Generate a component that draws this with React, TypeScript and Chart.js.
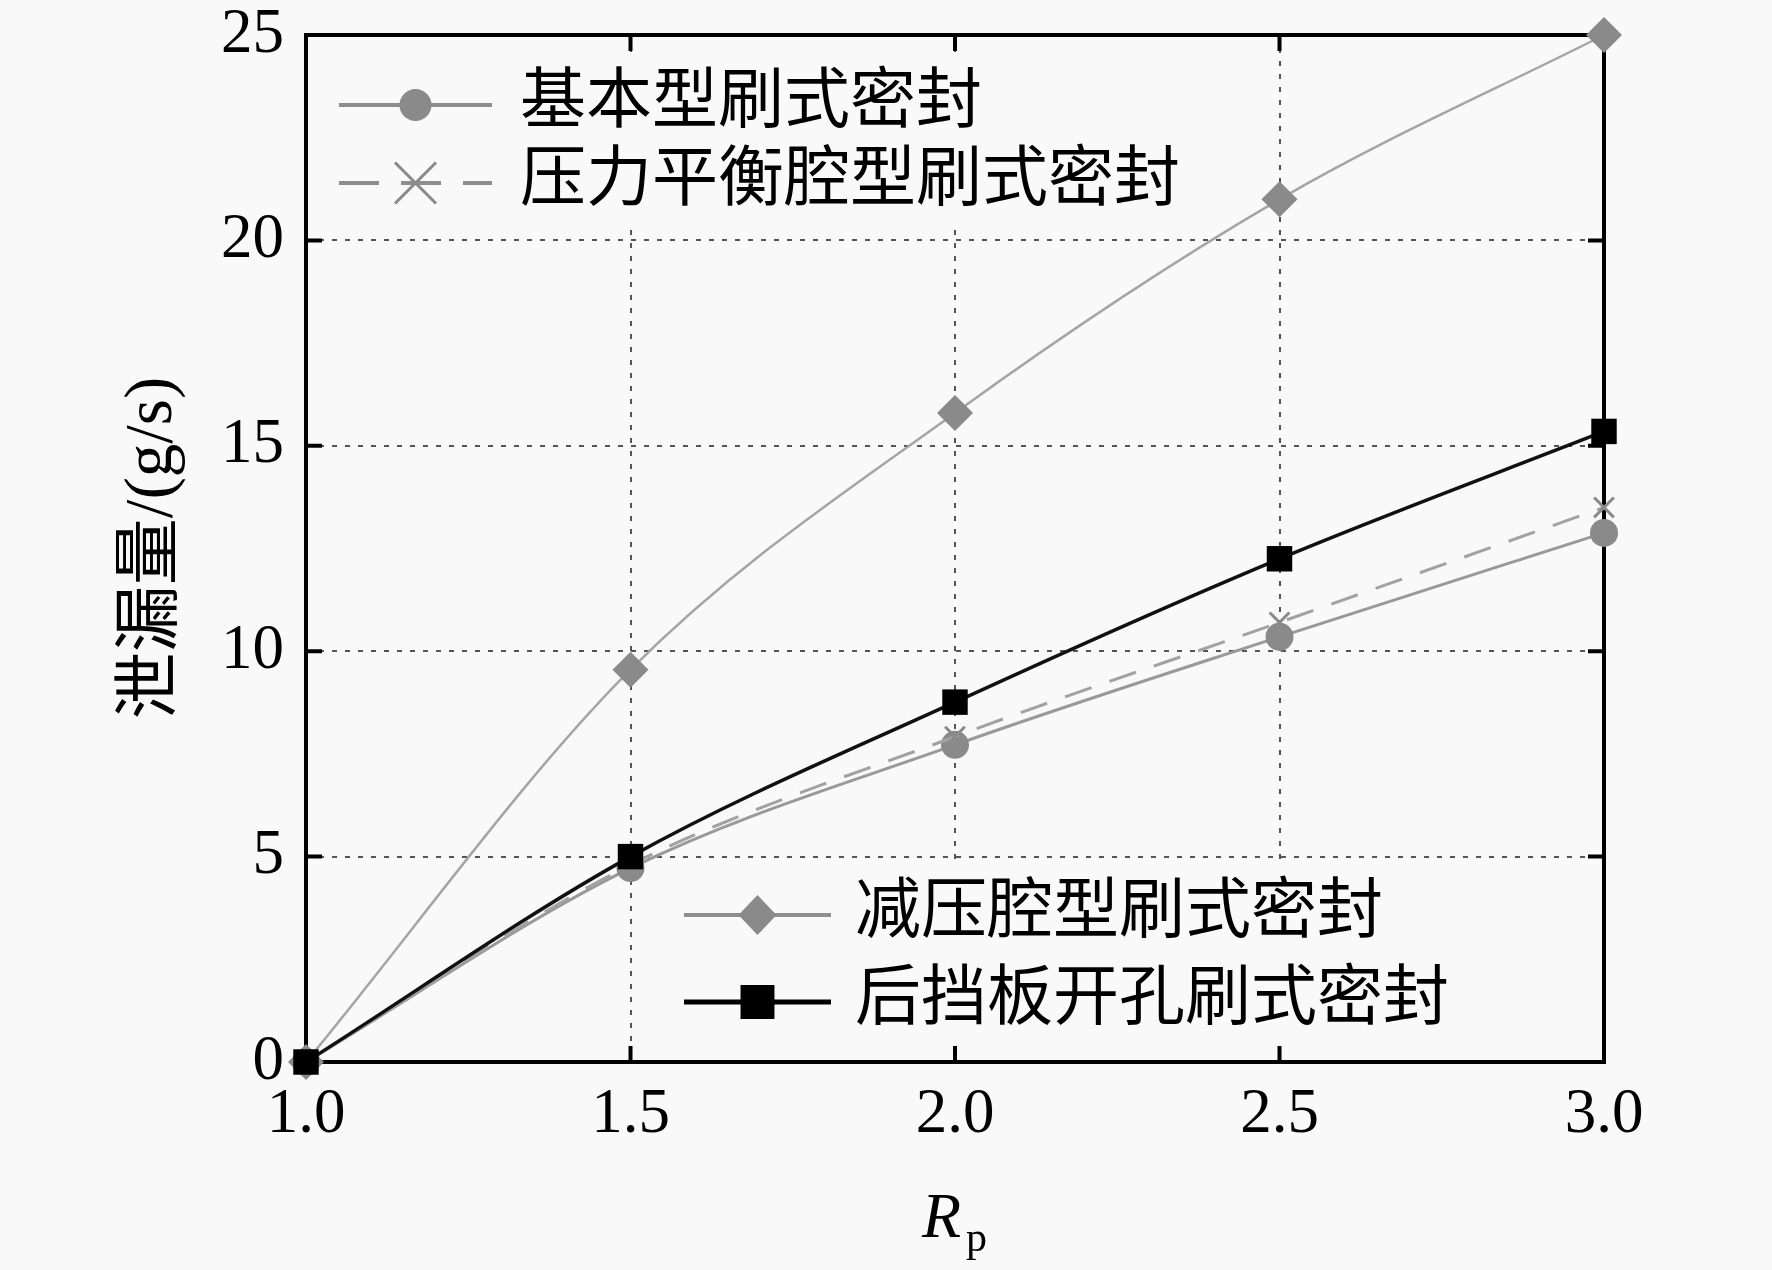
import React, { useEffect, useRef } from 'react';
import { Chart, registerables } from 'chart.js';
Chart.register(...registerables);

// 数据
const rpValues = [1.0, 1.5, 2.0, 2.5, 3.0];
const basicSeal = [0, 4.72, 7.72, 10.35, 12.88];
const balanceSeal = [0, 4.8, 7.92, 10.7, 13.5];
const reliefSeal = [0, 9.55, 15.8, 21.0, 25.0];
const backplateSeal = [0, 5.0, 8.76, 12.25, 15.35];

const xTicks = [1.0, 1.5, 2.0, 2.5, 3.0];
const yTicks = [0, 5, 10, 15, 20, 25];

const seriesNames = ['基本型刷式密封', '压力平衡腔型刷式密封', '减压腔型刷式密封', '后挡板开孔刷式密封'];

const BG = '#f9f9f9';
const SERIF = '"Liberation Serif", "Noto Sans CJK SC", serif';
const CJK = '"Liberation Serif", "Noto Sans CJK SC", sans-serif';

const toPoints = (ys: number[]) => rpValues.map((x, i) => ({ x, y: ys[i] }));

function drawMarker(ctx: CanvasRenderingContext2D, style: string, x: number, y: number, r: number, color: string) {
  ctx.save();
  ctx.fillStyle = color;
  ctx.strokeStyle = color;
  ctx.setLineDash([]);
  ctx.beginPath();
  if (style === 'circle') {
    ctx.arc(x, y, r, 0, Math.PI * 2);
    ctx.fill();
  } else if (style === 'rect') {
    ctx.rect(x - r * 0.707, y - r * 0.707, r * 1.414, r * 1.414);
    ctx.fill();
  } else if (style === 'rectRot') {
    ctx.moveTo(x, y - r);
    ctx.lineTo(x + r * 0.95, y);
    ctx.lineTo(x, y + r);
    ctx.lineTo(x - r * 0.95, y);
    ctx.closePath();
    ctx.fill();
  } else if (style === 'crossRot') {
    const d = r * 0.707;
    ctx.lineWidth = 3;
    ctx.moveTo(x - d, y - d);
    ctx.lineTo(x + d, y + d);
    ctx.moveTo(x + d, y - d);
    ctx.lineTo(x - d, y + d);
    ctx.stroke();
  }
  ctx.restore();
}

type LegendEntry = {
  label: string;
  y: number;
  x1: number;
  x2: number;
  tx: number;
  color: string;
  width: number;
  dash: number[];
  marker: string;
  markerColor: string;
  r: number;
};

const legendEntries: LegendEntry[] = [
  { label: seriesNames[0], y: 105, x1: 339, x2: 492, tx: 520, color: '#8e8e8e', width: 4, dash: [], marker: 'circle', markerColor: '#8a8a8a', r: 16 },
  { label: seriesNames[1], y: 183, x1: 339, x2: 492, tx: 520, color: '#8e8e8e', width: 4, dash: [40, 22], marker: 'crossRot', markerColor: '#8a8a8a', r: 29 },
  { label: seriesNames[2], y: 915, x1: 684, x2: 831, tx: 855, color: '#8e8e8e', width: 4, dash: [], marker: 'rectRot', markerColor: '#8a8a8a', r: 20 },
  { label: seriesNames[3], y: 1002, x1: 684, x2: 831, tx: 855, color: '#000', width: 5, dash: [], marker: 'rect', markerColor: '#000', r: 24 },
];

const decorPlugin = {
  id: 'decor',
  beforeDatasetsDraw(chart: Chart) {
    const { ctx, chartArea } = chart;
    const xs = chart.scales.x;
    const ys = chart.scales.y;
    ctx.save();
    // 图例背景（遮住网格）
    ctx.fillStyle = BG;
    ctx.fillRect(320, 52, 880, 176);
    ctx.fillRect(665, 866, 820, 182);
    // 边框
    ctx.strokeStyle = '#000';
    ctx.lineWidth = 4;
    ctx.setLineDash([]);
    ctx.strokeRect(chartArea.left, chartArea.top, chartArea.right - chartArea.left, chartArea.bottom - chartArea.top);
    // 内向刻度
    const tl = 16;
    ctx.beginPath();
    xTicks.forEach((v) => {
      const px = xs.getPixelForValue(v);
      ctx.moveTo(px, chartArea.bottom);
      ctx.lineTo(px, chartArea.bottom - tl);
      ctx.moveTo(px, chartArea.top);
      ctx.lineTo(px, chartArea.top + tl);
    });
    yTicks.forEach((v) => {
      const py = ys.getPixelForValue(v);
      ctx.moveTo(chartArea.left, py);
      ctx.lineTo(chartArea.left + tl, py);
      ctx.moveTo(chartArea.right, py);
      ctx.lineTo(chartArea.right - tl, py);
    });
    ctx.stroke();
    ctx.restore();
  },
  afterDraw(chart: Chart) {
    const { ctx } = chart;
    ctx.save();
    // 图例
    legendEntries.forEach((e) => {
      ctx.strokeStyle = e.color;
      ctx.lineWidth = e.width;
      ctx.setLineDash(e.dash);
      ctx.beginPath();
      ctx.moveTo(e.x1, e.y);
      ctx.lineTo(e.x2, e.y);
      ctx.stroke();
      drawMarker(ctx, e.marker, (e.x1 + e.x2) / 2, e.y, e.r, e.markerColor);
      ctx.fillStyle = '#000';
      ctx.font = `66px ${CJK}`;
      ctx.textAlign = 'left';
      ctx.textBaseline = 'middle';
      ctx.fillText(e.label, e.tx, e.y);
    });
    // 纵轴标题
    ctx.save();
    ctx.translate(153, 548);
    ctx.rotate(-Math.PI / 2);
    ctx.font = `67px ${CJK}`;
    ctx.textAlign = 'center';
    ctx.textBaseline = 'middle';
    ctx.fillStyle = '#000';
    ctx.fillText('泄漏量/(g/s)', 0, 0);
    ctx.restore();
    // 横轴标题 R_p
    ctx.fillStyle = '#000';
    ctx.textAlign = 'left';
    ctx.textBaseline = 'alphabetic';
    ctx.font = `italic 64px ${SERIF}`;
    ctx.fillText('R', 922, 1237);
    ctx.font = `42px ${SERIF}`;
    ctx.fillText('p', 966, 1251);
    ctx.restore();
  },
};

const App: React.FC = () => {
  const canvasRef = useRef<HTMLCanvasElement>(null);
  const chartRef = useRef<Chart | null>(null);

  useEffect(() => {
    if (!canvasRef.current) return;
    if (chartRef.current) chartRef.current.destroy();
    const ctx = canvasRef.current.getContext('2d');
    if (!ctx) return;

    const tickFont = { family: SERIF, size: 63 };

    chartRef.current = new Chart(ctx, {
      type: 'line',
      data: {
        datasets: [
          {
            label: seriesNames[3],
            data: toPoints(backplateSeal),
            borderColor: '#111',
            borderWidth: 3.5,
            pointStyle: 'rect',
            pointRadius: 18,
            pointBackgroundColor: '#000',
            pointBorderColor: '#000',
            pointBorderWidth: 0,
            cubicInterpolationMode: 'monotone',
            clip: false,
          },
          {
            label: seriesNames[1],
            data: toPoints(balanceSeal),
            borderColor: '#a2a2a2',
            borderWidth: 3,
            borderDash: [28, 19],
            pointStyle: 'crossRot',
            pointRadius: 14,
            pointBorderColor: '#8a8a8a',
            pointBorderWidth: 3,
            cubicInterpolationMode: 'monotone',
            clip: false,
          },
          {
            label: seriesNames[0],
            data: toPoints(basicSeal),
            borderColor: '#999',
            borderWidth: 3,
            pointStyle: 'circle',
            pointRadius: 14,
            pointBackgroundColor: '#8a8a8a',
            pointBorderColor: '#8a8a8a',
            pointBorderWidth: 0,
            cubicInterpolationMode: 'monotone',
            clip: false,
          },
          {
            label: seriesNames[2],
            data: toPoints(reliefSeal),
            borderColor: '#a5a5a5',
            borderWidth: 2.5,
            pointStyle: 'rectRot',
            pointRadius: 18,
            pointBackgroundColor: '#8a8a8a',
            pointBorderColor: '#8a8a8a',
            pointBorderWidth: 0,
            cubicInterpolationMode: 'monotone',
            clip: false,
          },
        ],
      },
      options: {
        responsive: false,
        animation: false,
        devicePixelRatio: 1,
        layout: { padding: { top: 35, right: 168, bottom: 0, left: 0 } },
        plugins: { legend: { display: false }, tooltip: { enabled: false } },
        scales: {
          x: {
            type: 'linear',
            min: 1,
            max: 3,
            afterBuildTicks: (s: any) => {
              s.ticks = xTicks.map((v) => ({ value: v }));
            },
            afterFit: (s: any) => {
              s.height = 208;
              s.paddingLeft = 0;
              s.paddingRight = 0;
            },
            ticks: {
              callback: (v: any) => Number(v).toFixed(1),
              font: tickFont,
              color: '#000',
              padding: 16,
              maxRotation: 0,
              autoSkip: false,
            },
            grid: { color: '#555', lineWidth: 2, drawTicks: false },
            border: { display: false, dash: [5, 8] },
          },
          y: {
            type: 'linear',
            min: 0,
            max: 25,
            afterBuildTicks: (s: any) => {
              s.ticks = yTicks.map((v) => ({ value: v }));
            },
            afterFit: (s: any) => {
              s.width = 306;
              s.paddingTop = 0;
              s.paddingBottom = 0;
            },
            ticks: {
              font: tickFont,
              color: '#000',
              padding: 22,
              autoSkip: false,
            },
            grid: { color: '#555', lineWidth: 2, drawTicks: false },
            border: { display: false, dash: [5, 8] },
          },
        },
      },
      plugins: [decorPlugin],
    });

    return () => {
      chartRef.current?.destroy();
      chartRef.current = null;
    };
  }, []);

  return (
    <div style={{ position: 'absolute', left: 0, top: 0, width: 1772, height: 1270, background: BG }}>
      <canvas ref={canvasRef} width={1772} height={1270} style={{ width: 1772, height: 1270, display: 'block' }} />
    </div>
  );
};

export default App;
